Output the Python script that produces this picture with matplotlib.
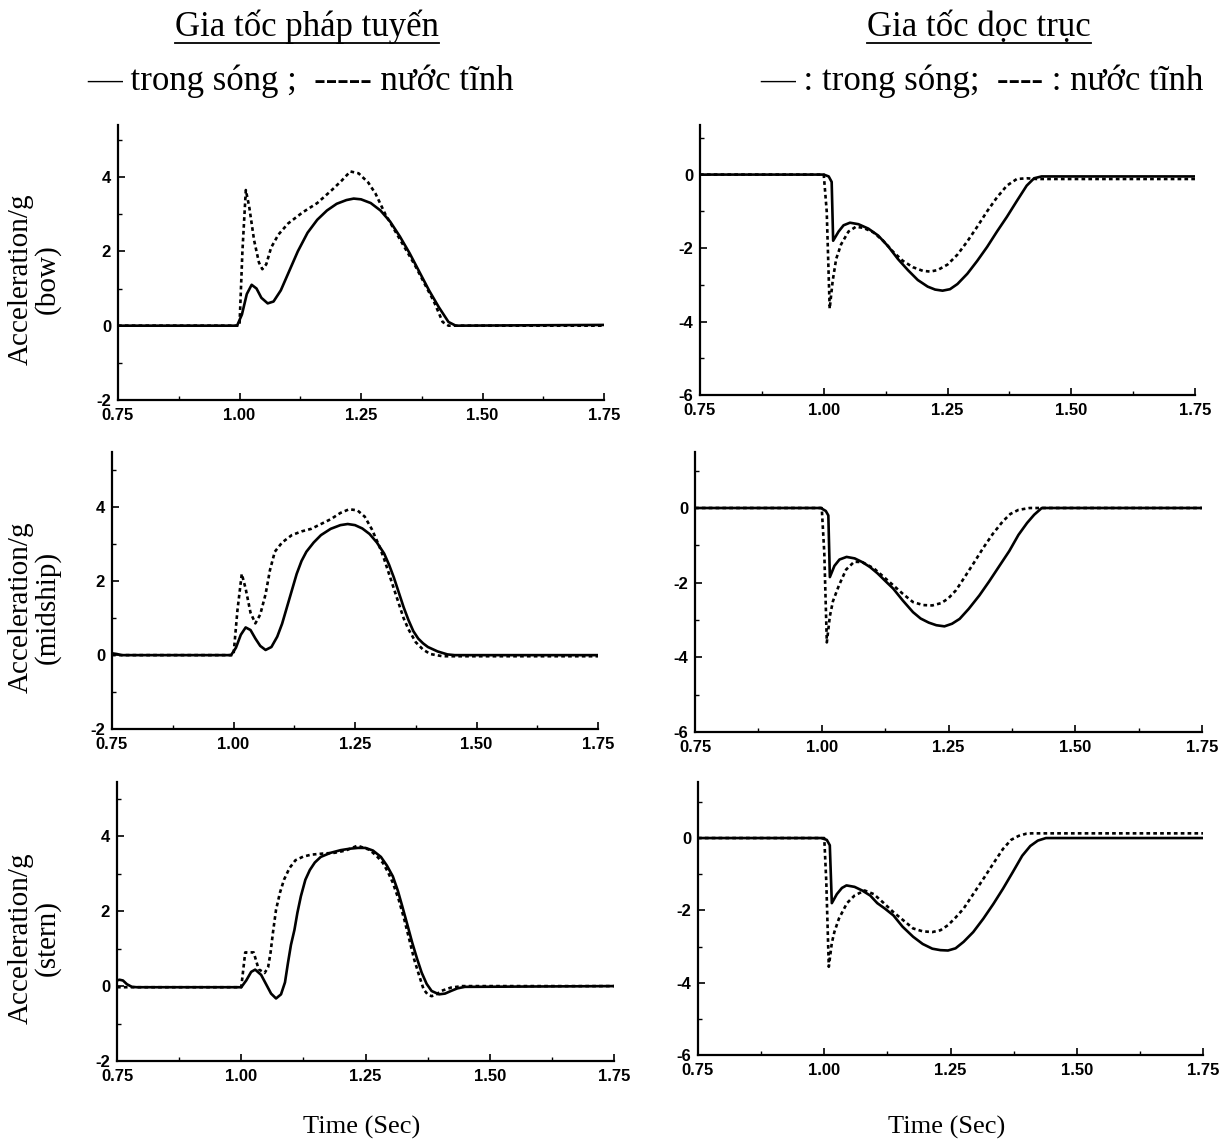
#!/usr/bin/env python3
"""Slamming accelerations: normal (left) and axial (right) at bow, midship and stern."""

import matplotlib
matplotlib.use('Agg')
import matplotlib.pyplot as plt
import matplotlib.transforms as mtransforms
from matplotlib.lines import Line2D
from matplotlib.ticker import MultipleLocator, FormatStrFormatter

# ---- data (time in s, acceleration in g) ----
# bow, normal
bow_n_wave_t = [0.75, 0.995, 1.005, 1.015, 1.025, 1.035, 1.045, 1.058, 1.07, 1.085, 1.10, 1.12,
                1.14, 1.16, 1.18, 1.20, 1.22, 1.235, 1.25, 1.27, 1.29, 1.31, 1.33, 1.35, 1.37,
                1.39, 1.41, 1.43, 1.445, 1.75]
bow_n_wave_a = [0, 0, 0.3, 0.85, 1.1, 1.0, 0.75, 0.6, 0.65, 0.95, 1.4, 2.0,
                2.5, 2.85, 3.1, 3.28, 3.38, 3.42, 3.4, 3.3, 3.1, 2.8, 2.4, 1.95, 1.45,
                0.95, 0.5, 0.1, 0.0, 0.02]
bow_n_calm_t = [0.75, 1.0, 1.006, 1.013, 1.02, 1.03, 1.04, 1.047, 1.055, 1.065, 1.08, 1.10,
                1.13, 1.16, 1.19, 1.21, 1.228, 1.245, 1.265, 1.28, 1.30, 1.32, 1.34, 1.36,
                1.38, 1.40, 1.418, 1.43, 1.75]
bow_n_calm_a = [0, 0, 2.0, 3.65, 3.2, 2.3, 1.7, 1.52, 1.65, 2.1, 2.45, 2.75,
                3.05, 3.3, 3.65, 3.9, 4.15, 4.1, 3.85, 3.55, 3.0, 2.55, 2.1, 1.65,
                1.15, 0.65, 0.1, 0.0, 0.0]

# bow, axial
bow_x_wave_t = [0.75, 1.0, 1.01, 1.016, 1.019, 1.03, 1.04, 1.053, 1.07, 1.09, 1.11, 1.13, 1.15,
                1.17, 1.19, 1.21, 1.225, 1.24, 1.255, 1.27, 1.29, 1.31, 1.33, 1.35, 1.37,
                1.39, 1.41, 1.425, 1.44, 1.75]
bow_x_wave_a = [0, 0, -0.05, -0.2, -1.8, -1.55, -1.38, -1.31, -1.35, -1.47, -1.66, -1.95, -2.3,
                -2.6, -2.87, -3.05, -3.13, -3.16, -3.12, -2.98, -2.7, -2.35, -1.97, -1.55, -1.15,
                -0.72, -0.3, -0.1, -0.05, -0.05]
bow_x_calm_t = [0.75, 1.0, 1.006, 1.012, 1.018, 1.025, 1.035, 1.05, 1.065, 1.08, 1.10, 1.12,
                1.14, 1.16, 1.18, 1.20, 1.215, 1.23, 1.25, 1.27, 1.29, 1.31, 1.33, 1.35,
                1.37, 1.39, 1.41, 1.43, 1.75]
bow_x_calm_a = [0, 0, -1.0, -3.65, -2.9, -2.3, -1.9, -1.55, -1.42, -1.45, -1.57, -1.8,
                -2.1, -2.35, -2.52, -2.62, -2.64, -2.6, -2.45, -2.18, -1.82, -1.42, -1.0, -0.62,
                -0.3, -0.12, -0.1, -0.12, -0.12]

# midship, normal
mid_n_wave_t = [0.75, 0.76, 0.77, 0.995, 1.005, 1.015, 1.025, 1.035, 1.045, 1.055, 1.066, 1.078,
                1.09, 1.10, 1.11, 1.12, 1.13, 1.14, 1.15, 1.165, 1.18, 1.20, 1.22, 1.235,
                1.25, 1.265, 1.28, 1.295, 1.31, 1.32, 1.33, 1.34, 1.35, 1.36, 1.37, 1.38,
                1.39, 1.40, 1.42, 1.44, 1.455, 1.75]
mid_n_wave_a = [0.05, 0.03, 0.0, 0.0, 0.2, 0.55, 0.75, 0.68, 0.45, 0.25, 0.14, 0.22,
                0.5, 0.85, 1.3, 1.75, 2.2, 2.55, 2.8, 3.05, 3.25, 3.42, 3.52, 3.55,
                3.52, 3.43, 3.28, 3.05, 2.75, 2.45, 2.1, 1.7, 1.3, 0.95, 0.65, 0.45,
                0.32, 0.22, 0.1, 0.02, 0.0, 0.0]
mid_n_calm_t = [0.75, 1.0, 1.008, 1.017, 1.025, 1.035, 1.045, 1.055, 1.066, 1.075, 1.085, 1.10,
                1.12, 1.14, 1.16, 1.18, 1.20, 1.22, 1.238, 1.255, 1.27, 1.285, 1.30, 1.31,
                1.32, 1.33, 1.34, 1.35, 1.36, 1.375, 1.39, 1.405, 1.43, 1.75]
mid_n_calm_a = [0, 0, 1.2, 2.2, 1.8, 1.15, 0.86, 1.1, 1.65, 2.3, 2.8, 3.05,
                3.25, 3.35, 3.42, 3.55, 3.68, 3.85, 3.95, 3.92, 3.75, 3.4, 2.95, 2.6,
                2.2, 1.8, 1.4, 1.0, 0.7, 0.35, 0.15, 0.03, -0.03, -0.03]

# midship, axial
mid_x_wave_t = [0.75, 0.998, 1.008, 1.013, 1.016, 1.025, 1.035, 1.049, 1.065, 1.08, 1.095, 1.11,
                1.125, 1.141, 1.16, 1.18, 1.195, 1.211, 1.226, 1.242, 1.257, 1.272, 1.29, 1.311,
                1.33, 1.349, 1.37, 1.388, 1.405, 1.419, 1.434, 1.75]
mid_x_wave_a = [0, 0, -0.08, -0.2, -1.85, -1.55, -1.38, -1.31, -1.35, -1.45, -1.58, -1.75,
                -1.95, -2.16, -2.48, -2.79, -2.96, -3.07, -3.14, -3.17, -3.1, -2.97, -2.7, -2.34,
                -1.97, -1.58, -1.15, -0.72, -0.4, -0.18, 0.0, 0.0]
mid_x_calm_t = [0.75, 1.0, 1.005, 1.01, 1.016, 1.022, 1.034, 1.048, 1.064, 1.08, 1.103, 1.12,
                1.141, 1.16, 1.18, 1.20, 1.218, 1.235, 1.249, 1.265, 1.28, 1.30, 1.318, 1.337,
                1.357, 1.372, 1.388, 1.41, 1.75]
mid_x_calm_a = [0, 0, -1.2, -3.6, -2.9, -2.5, -2.07, -1.65, -1.44, -1.45, -1.62, -1.82,
                -2.07, -2.3, -2.52, -2.6, -2.61, -2.55, -2.43, -2.2, -1.89, -1.47, -1.08, -0.7,
                -0.36, -0.16, -0.05, 0.0, 0.0]

# stern, normal
stern_n_wave_t = [0.75, 0.755, 0.762, 0.77, 0.78, 0.79, 1.0, 1.01, 1.02, 1.028, 1.04, 1.05,
                  1.06, 1.07, 1.08, 1.088, 1.094, 1.10, 1.107, 1.113, 1.12, 1.129, 1.138, 1.148,
                  1.16, 1.18, 1.20, 1.219, 1.235, 1.25, 1.265, 1.281, 1.293, 1.305, 1.315, 1.324,
                  1.334, 1.344, 1.354, 1.363, 1.373, 1.383, 1.398, 1.41, 1.422, 1.435, 1.45, 1.75]
stern_n_wave_a = [0.15, 0.17, 0.15, 0.05, -0.02, -0.03, -0.03, 0.15, 0.38, 0.44, 0.3, 0.05,
                  -0.2, -0.33, -0.22, 0.1, 0.62, 1.1, 1.5, 1.96, 2.4, 2.84, 3.1, 3.3,
                  3.45, 3.56, 3.63, 3.67, 3.69, 3.69, 3.62, 3.45, 3.22, 2.93, 2.55, 2.13,
                  1.65, 1.16, 0.72, 0.36, 0.06, -0.13, -0.22, -0.2, -0.13, -0.06, -0.02, 0.0]
stern_n_calm_t = [0.75, 1.0, 1.008, 1.025, 1.035, 1.047, 1.054, 1.059, 1.064, 1.07, 1.078, 1.086,
                  1.097, 1.109, 1.125, 1.141, 1.165, 1.188, 1.21, 1.234, 1.258, 1.272, 1.285,
                  1.295, 1.305, 1.317, 1.328, 1.338, 1.348, 1.358, 1.367, 1.375, 1.383, 1.393,
                  1.402, 1.422, 1.445, 1.75]
stern_n_calm_a = [-0.03, -0.03, 0.9, 0.9, 0.45, 0.35, 0.5, 0.9, 1.45, 2.04, 2.5, 2.84,
                  3.15, 3.36, 3.46, 3.51, 3.54, 3.56, 3.62, 3.75, 3.64, 3.48, 3.29,
                  3.05, 2.76, 2.3, 1.78, 1.25, 0.71, 0.28, -0.09, -0.22, -0.27, -0.22,
                  -0.13, -0.04, 0.0, 0.0]

# stern, axial
stern_x_wave_t = [0.75, 0.994, 1.005, 1.011, 1.015, 1.025, 1.035, 1.044, 1.06, 1.075, 1.091, 1.105,
                  1.12, 1.137, 1.155, 1.176, 1.195, 1.214, 1.23, 1.245, 1.26, 1.276, 1.295, 1.315,
                  1.335, 1.354, 1.373, 1.392, 1.408, 1.423, 1.439, 1.75]
stern_x_wave_a = [0, 0, -0.05, -0.2, -1.8, -1.55, -1.38, -1.31, -1.35, -1.45, -1.59, -1.8,
                  -1.95, -2.14, -2.45, -2.73, -2.93, -3.06, -3.1, -3.11, -3.05, -2.87, -2.6, -2.23,
                  -1.82, -1.4, -0.95, -0.49, -0.22, -0.07, 0.0, 0.0]
stern_x_calm_t = [0.75, 1.0, 1.004, 1.009, 1.015, 1.02, 1.029, 1.045, 1.06, 1.08, 1.098, 1.118,
                  1.137, 1.157, 1.176, 1.195, 1.214, 1.23, 1.245, 1.26, 1.276, 1.295, 1.315,
                  1.335, 1.354, 1.37, 1.385, 1.40, 1.41, 1.75]
stern_x_calm_a = [0, 0, -1.2, -3.56, -2.9, -2.6, -2.23, -1.8, -1.59, -1.45, -1.55, -1.8,
                  -2.05, -2.28, -2.5, -2.58, -2.6, -2.55, -2.41, -2.2, -1.95, -1.55, -1.13,
                  -0.7, -0.3, -0.05, 0.06, 0.12, 0.13, 0.13]

positions = ['bow', 'midship', 'stern']
left_titles = ['Gia tốc pháp tuyến', '— trong sóng ;  ----- nước tĩnh']
right_titles = ['Gia tốc dọc trục', '— : trong sóng;  ---- : nước tĩnh']
xlabel = 'Time (Sec)'

W, H = 1230, 1143
SERIF = ['Liberation Serif', 'DejaVu Serif']

plt.rcParams['font.family'] = ['Liberation Sans', 'DejaVu Sans']
plt.rcParams['font.weight'] = 'bold'

fig = plt.figure(figsize=(W / 100, H / 100), dpi=100)


def add_panel(left, right, top, bottom):
    """Axes from pixel edges."""
    return fig.add_axes([left / W, 1 - bottom / H, (right - left) / W, (bottom - top) / H])


def style(ax, ylim):
    ax.set_xlim(0.75, 1.75)
    ax.set_ylim(*ylim)
    for s in ['top', 'right']:
        ax.spines[s].set_visible(False)
    for s in ['left', 'bottom']:
        ax.spines[s].set_linewidth(1.6)
    ax.xaxis.set_major_locator(MultipleLocator(0.25))
    ax.xaxis.set_minor_locator(MultipleLocator(0.125))
    ax.yaxis.set_major_locator(MultipleLocator(2))
    ax.yaxis.set_minor_locator(MultipleLocator(1))
    ax.xaxis.set_major_formatter(FormatStrFormatter('%.2f'))
    ax.yaxis.set_major_formatter(FormatStrFormatter('%d'))
    ax.tick_params(which='major', direction='in', length=5, width=1.2, labelsize=12)
    ax.tick_params(which='minor', direction='in', length=3, width=1.0)
    ax.tick_params(axis='x', pad=6)
    ax.tick_params(axis='y', pad=5)


def curves(ax, wt, wa, ct, ca):
    ax.plot(wt, wa, color='black', lw=1.9, solid_capstyle='round')
    ax.plot(ct, ca, color='black', lw=1.9, linestyle=(0, (1.4, 1.2)))


# left column: normal acceleration
left_boxes = [(118, 604, 125, 400), (112, 598, 452, 729), (117, 614, 782, 1061)]
left_ylims = [(-2, 5.4), (-2, 5.5), (-2, 5.45)]
left_data = [(bow_n_wave_t, bow_n_wave_a, bow_n_calm_t, bow_n_calm_a),
             (mid_n_wave_t, mid_n_wave_a, mid_n_calm_t, mid_n_calm_a),
             (stern_n_wave_t, stern_n_wave_a, stern_n_calm_t, stern_n_calm_a)]

# right column: axial acceleration
right_boxes = [(700, 1195, 125, 395), (695, 1202, 452, 732), (698, 1203, 782, 1055)]
right_ylims = [(-6, 1.35), (-6, 1.5), (-6, 1.55)]
right_data = [(bow_x_wave_t, bow_x_wave_a, bow_x_calm_t, bow_x_calm_a),
              (mid_x_wave_t, mid_x_wave_a, mid_x_calm_t, mid_x_calm_a),
              (stern_x_wave_t, stern_x_wave_a, stern_x_calm_t, stern_x_calm_a)]

left_axes, right_axes = [], []
for box, ylim, data, pos in zip(left_boxes, left_ylims, left_data, positions):
    ax = add_panel(*box)
    style(ax, ylim)
    curves(ax, *data)
    trans = mtransforms.blended_transform_factory(fig.transFigure, ax.transAxes)
    ax.text(34 / W, 0.44, 'Acceleration/g\n(' + pos + ')', transform=trans, rotation=90,
            ha='center', va='center', multialignment='center', linespacing=1.0,
            fontsize=21, family=SERIF, weight='normal')
    left_axes.append(ax)

for box, ylim, data in zip(right_boxes, right_ylims, right_data):
    ax = add_panel(*box)
    style(ax, ylim)
    curves(ax, *data)
    right_axes.append(ax)

# column headers
hdr = []
hdr.append(fig.text(307 / W, 1 - 36 / H, left_titles[0], ha='center', va='baseline',
                    fontsize=25, family=SERIF, weight='normal'))
fig.text(301 / W, 1 - 90 / H, left_titles[1], ha='center', va='baseline',
         fontsize=25, family=SERIF, weight='normal')
hdr.append(fig.text(979 / W, 1 - 36 / H, right_titles[0], ha='center', va='baseline',
                    fontsize=25, family=SERIF, weight='normal'))
fig.text(982 / W, 1 - 90 / H, right_titles[1], ha='center', va='baseline',
         fontsize=25, family=SERIF, weight='normal')

# x labels under the bottom row
for box in (left_boxes[-1], right_boxes[-1]):
    fig.text((box[0] + box[1]) / 2 / W - 4 / W, 1 - 1127 / H, xlabel, ha='center', va='center',
             fontsize=19, family=SERIF, weight='normal')

# underline the headers
fig.canvas.draw()
renderer = fig.canvas.get_renderer()
for t in hdr:
    bb = t.get_window_extent(renderer)
    y = (H - 43) / H
    fig.add_artist(Line2D([bb.x0 / W, bb.x1 / W], [y, y], transform=fig.transFigure,
                          color='black', lw=1.3))

fig.savefig('out.png', dpi=100, facecolor='white')
print("Created: out.png")
